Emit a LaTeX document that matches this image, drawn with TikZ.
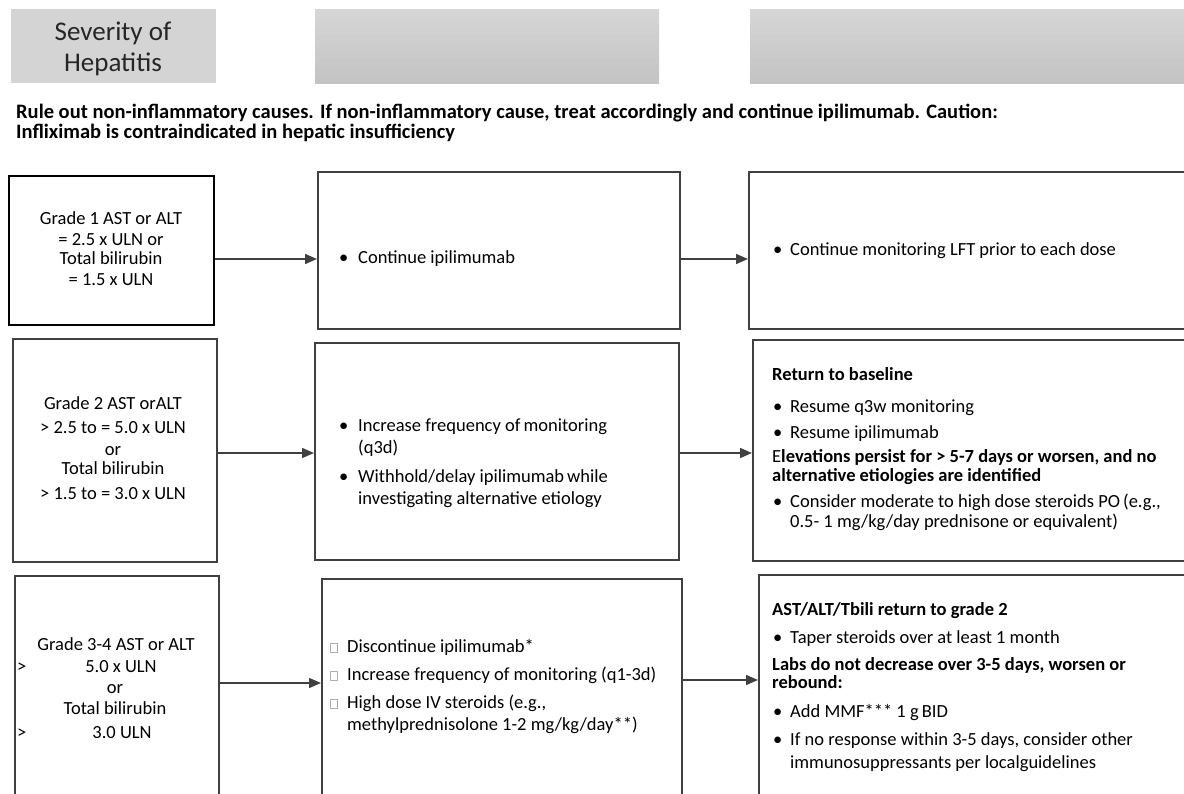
\documentclass[tikz,border=0pt]{standalone}
\usepackage{fontspec}
\setmainfont{Carlito}
\usetikzlibrary{arrows.meta}

\definecolor{edge}{HTML}{404040}
\definecolor{hdflat}{HTML}{D4D4D4}
\definecolor{hdtop}{HTML}{D6D6D6}
\definecolor{hdbot}{HTML}{C3C3C3}
\definecolor{chk}{HTML}{ADADAD}

% small grey check box used in the grade 3-4 action list
\newcommand\chkbox{{\color{chk}\setlength\fboxrule{0.7pt}\setlength\fboxsep{0pt}\fbox{\rule{0pt}{8.5pt}\hspace{6.5pt}}}}

\tikzset{
  box/.style={draw=edge, line width=1.5pt, anchor=north west, inner sep=0pt},
  gradebox/.style={box, draw=black, line width=2.2pt},
  hdr/.style={anchor=north west, inner sep=0pt, draw=none},
  txt/.style={anchor=base west, inner sep=0pt, font=\fontsize{18.5}{22}\selectfont, text=black},
  ctxt/.style={txt, anchor=base},
  note/.style={txt, font=\fontsize{20.5}{24}\selectfont\bfseries},
  title/.style={anchor=base, inner sep=0pt, font=\fontsize{27}{32}\selectfont, text=black!85},
  arr/.style={draw=edge, line width=1.5pt, -{Triangle[length=12pt,width=10pt]}},
}

\begin{document}
\begin{tikzpicture}[x=1pt,y=-1pt]
\useasboundingbox (0,0) rectangle (1184,793);
\clip (0,0) rectangle (1184,793);

% column headers (the last one runs off the right edge)
\node[hdr, fill=hdflat, minimum width=205pt, minimum height=74pt] (h1) at (11,9) {};
\node[hdr, top color=hdtop, bottom color=hdbot, minimum width=344pt, minimum height=74pt] (h2) at (315,9) {};
\node[hdr, top color=hdtop, bottom color=hdbot, minimum width=450pt, minimum height=74pt] (h3) at (750,9) {};
\node[title] (h1a) at (113,40) {Severity of};
\node[title] (h1b) at (113,71) {Hepatitis};

% general note
\node[note] (n1) at (16,118) {Rule out non-inflammatory causes. If non-inflammatory cause, treat accordingly and continue ipilimumab. Caution:};
\node[note] (n2) at (16,138) {Infliximab is contraindicated in hepatic insufficiency};

% boxes (right column and bottom row run past the edges)
\node[gradebox, minimum width=205pt, minimum height=149pt] (a1) at (8,175) {};
\node[box, minimum width=362pt, minimum height=157pt] (b1) at (317,171) {};
\node[box, minimum width=452pt, minimum height=157pt] (c1) at (748,171) {};

\node[box, minimum width=204pt, minimum height=223pt] (a2) at (12,338) {};
\node[box, minimum width=364pt, minimum height=217pt] (b2) at (314,342) {};
\node[box, minimum width=448pt, minimum height=221pt] (c2) at (752,339) {};

\node[box, minimum width=204pt, minimum height=250pt] (a3) at (14,575) {};
\node[box, minimum width=360pt, minimum height=250pt] (b3) at (321,578) {};
\node[box, minimum width=442pt, minimum height=250pt] (c3) at (758,574) {};

% connectors
\coordinate (r1) at (0,259);
\coordinate (r2) at (0,453);
\coordinate (r3a) at (0,683);
\coordinate (r3b) at (0,680);
\draw[arr] (a1.east |- r1) -- (b1.west |- r1);
\draw[arr] (b1.east |- r1) -- (c1.west |- r1);
\draw[arr] (a2.east |- r2) -- (b2.west |- r2);
\draw[arr] (b2.east |- r2) -- (c2.west |- r2);
\draw[arr] (a3.east |- r3a) -- (b3.west |- r3a);
\draw[arr] (b3.east |- r3b) -- (c3.west |- r3b);

% grade 1
\node[ctxt] (a1l1) at (111,224) {Grade 1 AST or ALT};
\node[ctxt] (a1l2) at (111,245) {= 2.5 x ULN or};
\node[ctxt] (a1l3) at (111,264) {Total bilirubin};
\node[ctxt] (a1l4) at (111,285) {= 1.5 x ULN};
\node[txt] (b1l1) at (339,263) {\makebox[19pt][l]{•}Continue ipilimumab};
\node[txt] (c1l1) at (773,255) {\makebox[17pt][l]{•}Continue monitoring LFT prior to each dose};

% grade 2
\node[ctxt] (a2l1) at (113,409) {Grade 2 AST orALT};
\node[ctxt] (a2l2) at (113,433) {> 2.5 to = 5.0 x ULN};
\node[ctxt] (a2l3) at (113,455) {or};
\node[ctxt] (a2l4) at (113,474) {Total bilirubin};
\node[ctxt] (a2l5) at (113,499) {> 1.5 to = 3.0 x ULN};

\node[txt] (b2l1) at (339,431) {\makebox[19pt][l]{•}Increase frequency of\,monitoring};
\node[txt] (b2l2) at (358,453) {(q3d)};
\node[txt] (b2l3) at (339,482) {\makebox[19pt][l]{•}Withhold/delay ipilimumab\,while};
\node[txt] (b2l4) at (358,504) {investigating alternative etiology};

\node[txt] (c2l1) at (772,380) {\textbf{Return to baseline}};
\node[txt] (c2l2) at (773,412) {\makebox[17pt][l]{•}Resume q3w monitoring};
\node[txt] (c2l3) at (773,438) {\makebox[17pt][l]{•}Resume ipilimumab};
\node[txt] (c2l4) at (772,462) {E\textbf{levations persist for > 5-7 days or worsen, and no}};
\node[txt] (c2l5) at (772,481) {\textbf{alternative etiologies are identified}};
\node[txt] (c2l6) at (773,507) {\makebox[17pt][l]{•}Consider moderate to high dose steroids PO\,(e.g.,};
\node[txt] (c2l7) at (790,527) {0.5- 1 mg/kg/day prednisone or equivalent)};

% grade 3-4
\node[ctxt] (a3l1) at (116,650) {Grade 3-4 AST or ALT};
\node[txt]  (a3g1) at (17,672) {>};
\node[ctxt] (a3l2) at (121,672) {5.0 x ULN};
\node[ctxt] (a3l3) at (115,693) {or};
\node[ctxt] (a3l4) at (115,714) {Total bilirubin};
\node[txt]  (a3g2) at (17,738) {>};
\node[ctxt] (a3l5) at (122,738) {3.0 ULN};

\node[txt] (b3l1) at (330,652) {\makebox[17pt][l]{\chkbox}Discontinue ipilimumab*};
\node[txt] (b3l2) at (330,680) {\makebox[17pt][l]{\chkbox}Increase frequency of monitoring (q1-3d)};
\node[txt] (b3l3) at (330,708) {\makebox[17pt][l]{\chkbox}High dose IV steroids (e.g.,};
\node[txt] (b3l4) at (347,730) {methylprednisolone 1-2 mg/kg/day**)};

\node[txt] (c3l1) at (772,615) {\textbf{AST/ALT/Tbili return to grade 2}};
\node[txt] (c3l2) at (773,643) {\makebox[17pt][l]{•}Taper steroids over at least 1 month};
\node[txt] (c3l3) at (772,670) {\textbf{Labs do not decrease over 3-5 days, worsen or}};
\node[txt] (c3l4) at (772,688) {\textbf{rebound:}};
\node[txt] (c3l5) at (773,717) {\makebox[17pt][l]{•}Add MMF*** 1 g\,BID};
\node[txt] (c3l6) at (773,745) {\makebox[17pt][l]{•}If no response within 3-5 days, consider other};
\node[txt] (c3l7) at (790,768) {immunosuppressants per localguidelines};
\end{tikzpicture}
\end{document}
